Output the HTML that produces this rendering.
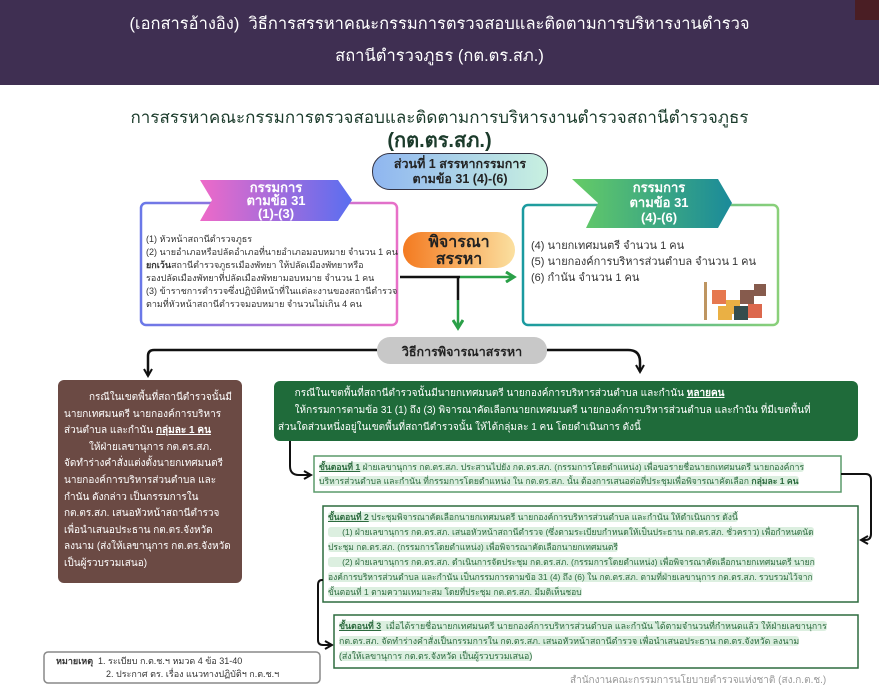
<!DOCTYPE html>
<html><head><meta charset="utf-8"><style>
*{margin:0;padding:0;box-sizing:border-box}
body{width:879px;height:692px;position:relative;background:#fff;font-family:"Liberation Sans","Noto Sans CJK SC",sans-serif;overflow:hidden;color:#333}
.a{position:absolute}
.hdr{left:0;top:0;width:879px;height:85px;background:#3f2f52;color:#fff;text-align:center;font-size:16.5px;line-height:32px;padding-top:8px}
.t{font-size:9px;line-height:13px;color:#333;white-space:nowrap}
.st{font-size:8.8px;line-height:14px;color:#2d6b3f;white-space:nowrap}
.hl{background:#dcefe0;border-radius:3px}
</style></head><body>
<div class="a hdr">(เอกสารอ้างอิง)&nbsp; วิธีการสรรหาคณะกรรมการตรวจสอบและติดตามการบริหารงานตำรวจ<br>สถานีตำรวจภูธร (กต.ตร.สภ.)</div>
<div class="a" style="left:855px;top:0;width:24px;height:20px;background:#4a1e24"></div>
<div class="a" style="left:0;top:104px;width:879px;text-align:center;font-size:17px;color:#1b3b2b">การสรรหาคณะกรรมการตรวจสอบและติดตามการบริหารงานตำรวจสถานีตำรวจภูธร</div>
<div class="a" style="left:0;top:124px;width:879px;text-align:center;font-size:20px;font-weight:bold;color:#1b3b2b">(กต.ตร.สภ.)</div>
<div class="a" style="left:372px;top:153px;width:176px;height:37px;border:1.5px solid #334;border-radius:18px;background:linear-gradient(90deg,#8fb6f0,#c8f0e0);text-align:center;font-size:12.5px;font-weight:bold;line-height:15px;padding-top:3px;color:#222">ส่วนที่ 1 สรรหากรรมการ<br>ตามข้อ 31 (4)-(6)</div>

<svg class="a" style="left:0;top:0" width="879" height="692">
<defs>
<linearGradient id="g1" x1="0" x2="1"><stop offset="0" stop-color="#ee6ac8"/><stop offset="1" stop-color="#5a6ef0"/></linearGradient>
<linearGradient id="g2" x1="0" x2="1"><stop offset="0" stop-color="#66cc66"/><stop offset="1" stop-color="#1a8a9a"/></linearGradient>
<linearGradient id="g3" x1="0" x2="1"><stop offset="0" stop-color="#f47a20"/><stop offset="1" stop-color="#fbe0a0"/></linearGradient>
<linearGradient id="gb" x1="0" x2="1"><stop offset="0" stop-color="#6a78e8"/><stop offset="1" stop-color="#e870c8"/></linearGradient>
<linearGradient id="gg" x1="0" x2="1"><stop offset="0" stop-color="#1a9aa0"/><stop offset="1" stop-color="#8ad07a"/></linearGradient>
<marker id="ak" markerUnits="userSpaceOnUse" markerWidth="10" markerHeight="10" refX="8" refY="5" orient="auto"><path d="M1,1 L8,5 L1,9" fill="none" stroke="#111" stroke-width="2"/></marker>
<marker id="ag" markerUnits="userSpaceOnUse" markerWidth="12" markerHeight="12" refX="9" refY="6" orient="auto"><path d="M1,1 L9,6 L1,11" fill="none" stroke="#2aa048" stroke-width="3"/></marker>
</defs>
<rect x="141" y="203" width="256" height="122" rx="5" fill="#fff" stroke="url(#gb)" stroke-width="2.5"/>
<polygon points="200,180 338,180 352,200 338,221 200,221 212,200" fill="url(#g1)"/>
<rect x="523" y="205" width="255" height="120" rx="5" fill="#fff" stroke="url(#gg)" stroke-width="2.5"/>
<polygon points="572,179 718,179 732,203 718,228 586,228 598,203" fill="url(#g2)"/>
<rect x="403" y="232" width="112" height="36" rx="18" fill="url(#g3)"/>
<line x1="400" y1="277" x2="460" y2="277" stroke="#111" stroke-width="2.5"/>
<line x1="460" y1="277" x2="514" y2="277" stroke="#2aa048" stroke-width="2.5" marker-end="url(#ag)"/>
<line x1="458" y1="277" x2="458" y2="300" stroke="#111" stroke-width="2.5"/>
<line x1="458" y1="300" x2="458" y2="328" stroke="#2aa048" stroke-width="2.5" marker-end="url(#ag)"/>
<path d="M377,350 H154 Q148,350 148,356 V376" fill="none" stroke="#111" stroke-width="2.5" marker-end="url(#ak)"/>
<path d="M547,350 H628 Q640,350 640,362 V372" fill="none" stroke="#111" stroke-width="2.5" marker-end="url(#ak)"/>
<rect x="377" y="337" width="170" height="27" rx="13" fill="#c8c8c8"/>
<rect x="58" y="380" width="184" height="203" rx="6" fill="#6b4a44"/>
<rect x="274" y="381" width="584" height="60" rx="6" fill="#1f6b3a"/>
<path d="M290,441 V466 Q290,475 299,475 H311" fill="none" stroke="#111" stroke-width="2" marker-end="url(#ak)"/>
<rect x="314" y="456" width="527" height="36" fill="#fff" stroke="#5a9a6a" stroke-width="1.5"/>
<path d="M841,474 H866 Q871,474 871,480 V534 Q871,540 865,540 H861" fill="none" stroke="#111" stroke-width="2" marker-end="url(#ak)"/>
<rect x="323" y="506" width="535" height="96" fill="#fff" stroke="#2d6b3f" stroke-width="1.5"/>
<path d="M323,580 H322 Q318,580 318,585 V640 Q318,645 323,645 H332" fill="none" stroke="#111" stroke-width="2" marker-end="url(#ak)"/>
<rect x="334" y="615" width="524" height="53" fill="#fff" stroke="#2d6b3f" stroke-width="1.5"/>
<rect x="44" y="652" width="276" height="31" rx="4" fill="#fff" stroke="#888" stroke-width="1.5"/>
<g opacity="0.9">
<rect x="712" y="290" width="14" height="14" fill="#e46a3c"/><rect x="726" y="300" width="14" height="14" fill="#e8a830"/>
<rect x="740" y="290" width="14" height="14" fill="#7a4a3a"/><rect x="734" y="306" width="14" height="14" fill="#1f3a3a"/>
<rect x="748" y="304" width="14" height="14" fill="#d9583a"/><rect x="718" y="306" width="14" height="14" fill="#e8a830"/>
<rect x="754" y="284" width="12" height="12" fill="#7a4a3a"/><rect x="704" y="282" width="3" height="38" fill="#b88a50"/>
</g>
</svg>

<div class="a" style="left:200px;top:181px;width:152px;text-align:center;color:#fff;font-weight:bold;font-size:13px;line-height:13px">กรรมการ<br>ตามข้อ 31<br>(1)-(3)</div>
<div class="a" style="left:586px;top:180px;width:146px;text-align:center;color:#fff;font-weight:bold;font-size:13px;line-height:15px">กรรมการ<br>ตามข้อ 31<br>(4)-(6)</div>
<div class="a t" style="left:146px;top:233px">(1) หัวหน้าสถานีตำรวจภูธร<br>(2) นายอำเภอหรือปลัดอำเภอที่นายอำเภอมอบหมาย จำนวน 1 คน<br><b>ยกเว้น</b>สถานีตำรวจภูธรเมืองพัทยา ให้ปลัดเมืองพัทยาหรือ<br>รองปลัดเมืองพัทยาที่ปลัดเมืองพัทยามอบหมาย จำนวน 1 คน<br>(3) ข้าราชการตำรวจซึ่งปฏิบัติหน้าที่ในแต่ละงานของสถานีตำรวจ<br>ตามที่หัวหน้าสถานีตำรวจมอบหมาย จำนวนไม่เกิน 4 คน</div>
<div class="a" style="left:403px;top:234px;width:112px;text-align:center;font-weight:bold;font-size:16px;line-height:17px;color:#222">พิจารณา<br>สรรหา</div>
<div class="a" style="left:531px;top:238px;font-size:11px;line-height:16px;color:#333;white-space:nowrap">(4) นายกเทศมนตรี จำนวน 1 คน<br>(5) นายกองค์การบริหารส่วนตำบล จำนวน 1 คน<br>(6) กำนัน จำนวน 1 คน</div>
<div class="a" style="left:377px;top:342px;width:170px;text-align:center;font-weight:bold;font-size:12.5px;color:#222">วิธีการพิจารณาสรรหา</div>
<div class="a" style="left:64px;top:390px;color:#fff;font-size:10px;line-height:16.6px;white-space:nowrap">&nbsp;&nbsp;&nbsp;&nbsp;&nbsp;&nbsp;&nbsp;&nbsp;&nbsp;กรณีในเขตพื้นที่สถานีตำรวจนั้นมี<br>นายกเทศมนตรี นายกองค์การบริหาร<br>ส่วนตำบล และกำนัน <b><u>กลุ่มละ 1 คน</u></b><br>&nbsp;&nbsp;&nbsp;&nbsp;&nbsp;&nbsp;&nbsp;&nbsp;&nbsp;ให้ฝ่ายเลขานุการ กต.ตร.สภ.<br>จัดทำร่างคำสั่งแต่งตั้งนายกเทศมนตรี<br>นายกองค์การบริหารส่วนตำบล และ<br>กำนัน ดังกล่าว เป็นกรรมการใน<br>กต.ตร.สภ. เสนอหัวหน้าสถานีตำรวจ<br>เพื่อนำเสนอประธาน กต.ตร.จังหวัด<br>ลงนาม (ส่งให้เลขานุการ กต.ตร.จังหวัด<br>เป็นผู้รวบรวมเสนอ)</div>
<div class="a" style="left:278px;top:385px;color:#fff;font-size:10px;line-height:17px;white-space:nowrap">&nbsp;&nbsp;&nbsp;&nbsp;&nbsp;&nbsp;กรณีในเขตพื้นที่สถานีตำรวจนั้นมีนายกเทศมนตรี นายกองค์การบริหารส่วนตำบล และกำนัน <b><u>หลายคน</u></b><br>&nbsp;&nbsp;&nbsp;&nbsp;&nbsp;&nbsp;ให้กรรมการตามข้อ 31 (1) ถึง (3) พิจารณาคัดเลือกนายกเทศมนตรี นายกองค์การบริหารส่วนตำบล และกำนัน ที่มีเขตพื้นที่<br>ส่วนใดส่วนหนึ่งอยู่ในเขตพื้นที่สถานีตำรวจนั้น ให้ได้กลุ่มละ 1 คน โดยดำเนินการ ดังนี้</div>
<div class="a st" style="left:319px;top:460px;font-size:8.6px"><span class="hl"><b><u>ขั้นตอนที่ 1</u></b> ฝ่ายเลขานุการ กต.ตร.สภ. ประสานไปยัง กต.ตร.สภ. (กรรมการโดยตำแหน่ง) เพื่อขอรายชื่อนายกเทศมนตรี นายกองค์การ</span><br><span class="hl">บริหารส่วนตำบล และกำนัน ที่กรรมการโดยตำแหน่ง ใน กต.ตร.สภ. นั้น ต้องการเสนอต่อที่ประชุมเพื่อพิจารณาคัดเลือก <b>กลุ่มละ 1 คน</b></span></div>
<div class="a st" style="left:328px;top:510px;font-size:8.5px;line-height:15px"><span class="hl"><b><u>ขั้นตอนที่ 2</u></b> ประชุมพิจารณาคัดเลือกนายกเทศมนตรี นายกองค์การบริหารส่วนตำบล และกำนัน ให้ดำเนินการ ดังนี้</span><br><span class="hl">&nbsp;&nbsp;&nbsp;&nbsp;&nbsp;&nbsp;(1) ฝ่ายเลขานุการ กต.ตร.สภ. เสนอหัวหน้าสถานีตำรวจ (ซึ่งตามระเบียบกำหนดให้เป็นประธาน กต.ตร.สภ. ชั่วคราว) เพื่อกำหนดนัด</span><br><span class="hl">ประชุม กต.ตร.สภ. (กรรมการโดยตำแหน่ง) เพื่อพิจารณาคัดเลือกนายกเทศมนตรี</span><br><span class="hl">&nbsp;&nbsp;&nbsp;&nbsp;&nbsp;&nbsp;(2) ฝ่ายเลขานุการ กต.ตร.สภ. ดำเนินการจัดประชุม กต.ตร.สภ. (กรรมการโดยตำแหน่ง) เพื่อพิจารณาคัดเลือกนายกเทศมนตรี นายก</span><br><span class="hl">องค์การบริหารส่วนตำบล และกำนัน เป็นกรรมการตามข้อ 31 (4) ถึง (6) ใน กต.ตร.สภ. ตามที่ฝ่ายเลขานุการ กต.ตร.สภ. รวบรวมไว้จาก</span><br><span class="hl">ขั้นตอนที่ 1 ตามความเหมาะสม โดยที่ประชุม กต.ตร.สภ. มีมติเห็นชอบ</span></div>
<div class="a st" style="left:339px;top:619px;font-size:8.8px;line-height:15px"><span class="hl"><b><u>ขั้นตอนที่ 3</u></b>&nbsp; เมื่อได้รายชื่อนายกเทศมนตรี นายกองค์การบริหารส่วนตำบล และกำนัน ได้ตามจำนวนที่กำหนดแล้ว ให้ฝ่ายเลขานุการ</span><br><span class="hl">กต.ตร.สภ. จัดทำร่างคำสั่งเป็นกรรมการใน กต.ตร.สภ. เสนอหัวหน้าสถานีตำรวจ เพื่อนำเสนอประธาน กต.ตร.จังหวัด ลงนาม</span><br><span class="hl">(ส่งให้เลขานุการ กต.ตร.จังหวัด เป็นผู้รวบรวมเสนอ)</span></div>
<div class="a" style="left:56px;top:655px;font-size:9px;line-height:13px;color:#333;white-space:nowrap"><b>หมายเหตุ</b>&nbsp; 1. ระเบียบ ก.ต.ช.ฯ หมวด 4 ข้อ 31-40<br><span style="padding-left:50px">2. ประกาศ ตร. เรื่อง แนวทางปฏิบัติฯ ก.ต.ช.ฯ</span></div>
<div class="a" style="left:570px;top:673px;font-size:10px;color:#999;white-space:nowrap">สำนักงานคณะกรรมการนโยบายตำรวจแห่งชาติ (สง.ก.ต.ช.)</div>
</body></html>
